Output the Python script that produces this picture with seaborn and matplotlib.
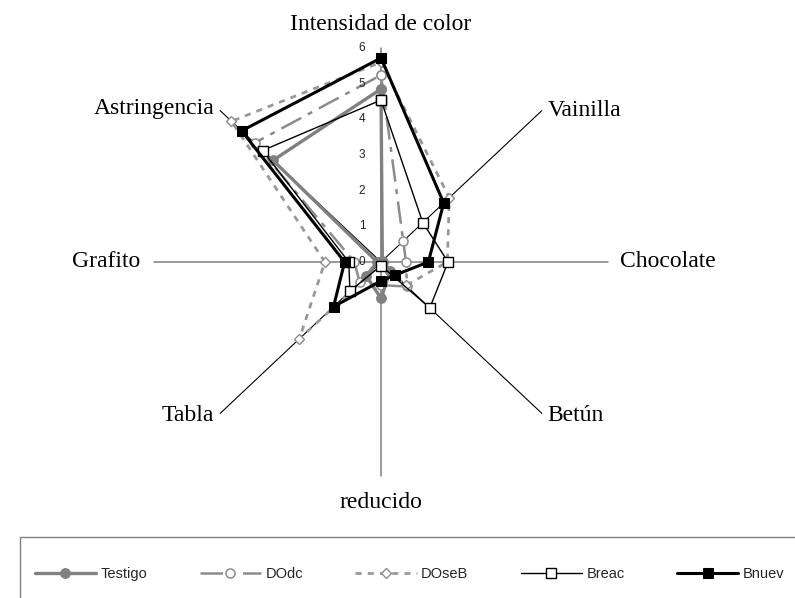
import numpy as np
import pandas as pd
import matplotlib
matplotlib.use("Agg")
import matplotlib.pyplot as plt
from matplotlib.patches import Rectangle
import seaborn as sns

# attributes, clockwise from the top
attributes = ["Intensidad de color", "Vainilla", "Chocolate", "Betún",
              "reducido", "Tabla", "Grafito", "Astringencia"]

testigo = [4.85, 0.05, 0.05, 0.35, 1.02, 0.55, 0.1, 4.03]
dodc = [5.24, 0.83, 0.66, 0.97, 0.65, 0.8, 0.7, 4.72]
doseb = [5.6, 2.55, 1.75, 0.93, 0.05, 3.05, 1.48, 5.58]
breac = [4.54, 1.56, 1.77, 1.82, 0.1, 1.16, 0.85, 4.42]
bnuev = [5.72, 2.34, 1.25, 0.52, 0.53, 1.77, 0.96, 5.2]

series_names = ["Testigo", "DOdc", "DOseB", "Breac", "Bnuev"]
series_values = [testigo, dodc, doseb, breac, bnuev]
scale_ticks = [0, 1, 2, 3, 4, 5, 6]
r_max = 6

sns.set_style("white")
plt.rcParams["font.family"] = ["Liberation Sans", "DejaVu Sans"]

W, H = 795, 598
fig = plt.figure(figsize=(W / 100, H / 100), dpi=100)
ax = fig.add_axes([0, 0, 1, 1])

# centre of the web in pixels and pixels per unit (slightly wider than tall)
cx, cy = 381, 262
sx, sy = 37.9, 35.67
ax.set_xlim(-cx / sx, (W - cx) / sx)
ax.set_ylim(-(H - cy) / sy, cy / sy)
ax.axis("off")

angles = np.deg2rad(np.arange(len(attributes)) * 360 / len(attributes))

# spokes
for i, a in enumerate(angles):
    col = "#808080" if i % 2 == 0 else "black"
    ax.plot([0, r_max * np.sin(a)], [0, r_max * np.cos(a)], color=col,
            lw=1.1 if i % 2 == 0 else 0.8, zorder=1)

# scale labels on the top spoke
for t in scale_ticks:
    ax.text(-0.5, t, str(t), ha="center", va="center", fontsize=8.5,
            color="#222222", zorder=6)

styles = {
    "Testigo": dict(color="#808080", lw=2.4, ls="-", marker="o", ms=7,
                    mfc="#808080", mec="#808080", zorder=3),
    "DOdc": dict(color="#8c8c8c", lw=1.8, ls=(0, (9, 3, 2, 3)), marker="o",
                 ms=6.5, mfc="white", mec="#8c8c8c", mew=1.1, zorder=2),
    "DOseB": dict(color="#999999", lw=2.0, ls=(0, (2.2, 2.2)), marker="D",
                  ms=5, mfc="white", mec="#8c8c8c", mew=1.0, zorder=2),
    "Breac": dict(color="black", lw=1.0, ls="-", marker="s", ms=7,
                  mfc="white", mec="black", mew=1.0, zorder=4),
    "Bnuev": dict(color="black", lw=2.2, ls="-", marker="s", ms=7,
                  mfc="black", mec="black", zorder=5),
}

rows = []
for name, vals in zip(series_names, series_values):
    closed = list(vals) + [vals[0]]
    closed_ang = list(angles) + [angles[0]]
    for k, (v, a) in enumerate(zip(closed, closed_ang)):
        rows.append({"serie": name, "orden": k,
                     "x": v * np.sin(a), "y": v * np.cos(a)})
df = pd.DataFrame(rows)

for name in series_names:
    sub = df[df["serie"] == name]
    st = dict(styles[name])
    z = st.pop("zorder")
    sns.lineplot(data=sub, x="x", y="y", sort=False, estimator=None,
                 ax=ax, label=name, zorder=z, **st)
handles, labels = ax.get_legend_handles_labels()
ax.get_legend().remove()

# attribute labels
label_pos = [
    (0, 6.65, "center", "center"),
    (4.4, 4.25, "left", "center"),
    (6.3, 0, "left", "center"),
    (4.4, -4.3, "left", "center"),
    (0, -6.75, "center", "center"),
    (-4.4, -4.3, "right", "center"),
    (-6.35, 0, "right", "center"),
    (-4.4, 4.3, "right", "center"),
]
for name, (x, y, ha, va) in zip(attributes, label_pos):
    ax.text(x, y, name, ha=ha, va=va, fontsize=17,
            family=["Liberation Serif", "DejaVu Serif"], color="black")

# legend box runs off the right and bottom edges like the original
fig.patches.append(Rectangle((20 / W, -0.05), 1.0, 0.05 + 1 - 537 / H,
                             transform=fig.transFigure, fill=False,
                             edgecolor="#808080", lw=1.0))
leg = fig.legend(handles, labels, loc="upper left",
                 bbox_to_anchor=(29 / W, 1 - 561 / H), ncol=5,
                 frameon=False, fontsize=10.5,
                 handlelength=4.2, columnspacing=3.6, handletextpad=0.3,
                 borderpad=0.4, borderaxespad=0)

fig.savefig("out.png", dpi=100)
